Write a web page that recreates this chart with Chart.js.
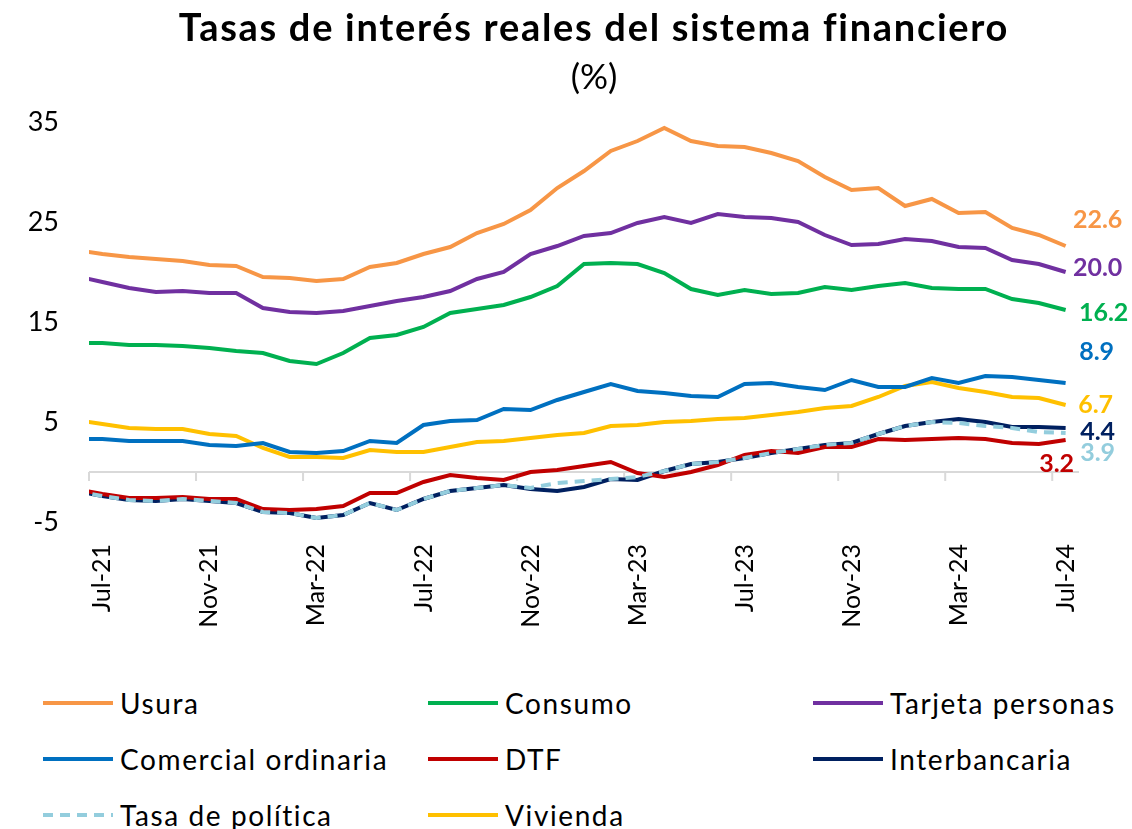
<!DOCTYPE html>
<html>
<head>
<meta charset="utf-8">
<script src="https://cdn.jsdelivr.net/npm/chart.js@4.4.1/dist/chart.umd.min.js"></script>
<style>
  body { margin: 0; background: #fff; font-family: Lato, sans-serif; }
  #wrap { position: relative; width: 1132px; height: 829px; overflow: hidden; }
  #box { position: absolute; left: 0; top: 0; width: 1132px; height: 652px; }
  #title { position: absolute; top: 3px; left: 28px; width: 1132px; text-align: center;
           font-weight: bold; font-size: 38px; letter-spacing: 1.7px; color: #000; }
  #subtitle { position: absolute; top: 54px; left: 28px; width: 1132px; text-align: center;
              font-size: 35px; color: #000; }
  .item { position: absolute; display: flex; align-items: center; height: 40px;
          font-size: 28px; letter-spacing: 1.6px; color: #000; white-space: nowrap; }
  .item svg { margin-right: 7px; }
</style>
</head>
<body>
<div id="wrap">
  <div id="box"><canvas id="chart"></canvas></div>
  <div id="title">Tasas de interés reales del sistema financiero</div>
  <div id="subtitle">(%)</div>
  <div id="legend"></div>
</div>
<script>
// months (Jun-21 only feeds the clipped stub at the left edge)
const months = ['Jun-21', 'Jul-21', 'Ago-21', 'Sep-21', 'Oct-21', 'Nov-21', 'Dic-21', 'Ene-22', 'Feb-22', 'Mar-22',
  'Abr-22', 'May-22', 'Jun-22', 'Jul-22', 'Ago-22', 'Sep-22', 'Oct-22', 'Nov-22', 'Dic-22', 'Ene-23', 'Feb-23',
  'Mar-23', 'Abr-23', 'May-23', 'Jun-23', 'Jul-23', 'Ago-23', 'Sep-23', 'Oct-23', 'Nov-23', 'Dic-23', 'Ene-24',
  'Feb-24', 'Mar-24', 'Abr-24', 'May-24', 'Jun-24', 'Jul-24'];

const usura = [22.2, 21.8, 21.5, 21.3, 21.1, 20.7, 20.6, 19.5, 19.4, 19.1, 19.3, 20.5, 20.9, 21.8, 22.5, 23.9, 24.8,
  26.2, 28.4, 30.1, 32.1, 33.1, 34.4, 33.1, 32.6, 32.5, 31.9, 31.1, 29.5, 28.2, 28.4, 26.6, 27.3, 25.9, 26.0, 24.4, 23.7, 22.6];
const consumo = [12.9, 12.9, 12.7, 12.7, 12.6, 12.4, 12.1, 11.9, 11.1, 10.8, 11.9, 13.4, 13.7, 14.5, 15.9, 16.3, 16.7,
  17.5, 18.6, 20.8, 20.9, 20.8, 19.9, 18.3, 17.7, 18.2, 17.8, 17.9, 18.5, 18.2, 18.6, 18.9, 18.4, 18.3, 18.3, 17.3, 16.9, 16.2];
const tarjeta = [19.6, 19.0, 18.4, 18.0, 18.1, 17.9, 17.9, 16.4, 16.0, 15.9, 16.1, 16.6, 17.1, 17.5, 18.1, 19.3, 20.0,
  21.8, 22.6, 23.6, 23.9, 24.9, 25.5, 24.9, 25.8, 25.5, 25.4, 25.0, 23.7, 22.7, 22.8, 23.3, 23.1, 22.5, 22.4, 21.2, 20.8, 20.0];
const comercial = [3.3, 3.3, 3.1, 3.1, 3.1, 2.7, 2.6, 2.9, 2.0, 1.9, 2.1, 3.1, 2.9, 4.7, 5.1, 5.2, 6.3, 6.2, 7.2, 8.0,
  8.8, 8.1, 7.9, 7.6, 7.5, 8.8, 8.9, 8.5, 8.2, 9.2, 8.5, 8.5, 9.4, 8.9, 9.6, 9.5, 9.2, 8.9];
const dtf = [-1.7, -2.2, -2.6, -2.6, -2.5, -2.7, -2.7, -3.7, -3.8, -3.7, -3.4, -2.1, -2.1, -1.0, -0.3, -0.6, -0.8, 0.0,
  0.2, 0.6, 1.0, -0.1, -0.5, 0.0, 0.7, 1.7, 2.1, 1.9, 2.5, 2.5, 3.3, 3.2, 3.3, 3.4, 3.3, 2.9, 2.8, 3.2];
const interbancaria = [-1.9, -2.4, -2.8, -2.9, -2.7, -2.9, -3.1, -4.0, -4.1, -4.6, -4.3, -3.1, -3.8, -2.7, -1.9, -1.6,
  -1.3, -1.7, -1.9, -1.5, -0.7, -0.8, 0.1, 0.8, 1.0, 1.4, 1.9, 2.3, 2.7, 2.9, 3.8, 4.6, 5.0, 5.3, 5.0, 4.5, 4.5, 4.4];
const politica = [-1.9, -2.4, -2.8, -2.9, -2.7, -2.9, -3.1, -4.0, -4.1, -4.6, -4.3, -3.1, -3.8, -2.7, -1.9, -1.6,
  -1.3, -1.6, -1.1, -0.9, -0.7, -0.5, 0.1, 0.8, 1.0, 1.4, 1.9, 2.3, 2.7, 2.9, 3.8, 4.6, 5.0, 4.9, 4.6, 4.4, 4.0, 3.9];
const vivienda = [5.2, 4.8, 4.4, 4.3, 4.3, 3.8, 3.6, 2.4, 1.5, 1.5, 1.4, 2.2, 2.0, 2.0, 2.5, 3.0, 3.1, 3.4, 3.7, 3.9,
  4.6, 4.7, 5.0, 5.1, 5.3, 5.4, 5.7, 6.0, 6.4, 6.6, 7.5, 8.6, 9.0, 8.4, 8.0, 7.5, 7.4, 6.7];

const yTicks = [-5, 5, 15, 25, 35];

// series setup: name, data, colour, end label offset
const series = [
  { name: 'Usura', data: usura, color: '#F79646', off: [32, -26] },
  { name: 'Consumo', data: consumo, color: '#00B050', off: [38, 3] },
  { name: 'Tarjeta personas', data: tarjeta, color: '#7030A0', off: [32, -4] },
  { name: 'Comercial ordinaria', data: comercial, color: '#0070C0', off: [31, -31] },
  { name: 'DTF', data: dtf, color: '#C00000', off: [-9, 24] },
  { name: 'Interbancaria', data: interbancaria, color: '#002060', off: [32, 4] },
  { name: 'Tasa de política', data: politica, color: '#93CDDD', off: [32, 20], dash: [10, 7] },
  { name: 'Vivienda', data: vivienda, color: '#FFC000', off: [30, 0] }
];

// zero line with tick marks every 4 months
const zeroLine = {
  id: 'zeroLine',
  beforeDatasetsDraw(chart) {
    const ctx = chart.ctx, area = chart.chartArea;
    const x = chart.scales.x, y = chart.scales.y;
    const y0 = y.getPixelForValue(0);
    ctx.save();
    ctx.strokeStyle = '#D9D9D9';
    ctx.lineWidth = 2;
    ctx.beginPath();
    ctx.moveTo(area.left, y0);
    ctx.lineTo(area.right, y0);
    for (let k = 1; k < months.length; k += 4) {
      const px = x.getPixelForValue(k - 0.5);
      ctx.moveTo(px, y0);
      ctx.lineTo(px, y0 + 9);
    }
    ctx.stroke();
    ctx.restore();
  }
};

// value labels at the end of each line
const endLabels = {
  id: 'endLabels',
  afterDatasetsDraw(chart) {
    const ctx = chart.ctx;
    ctx.save();
    ctx.font = 'bold 25px Lato, sans-serif';
    ctx.textAlign = 'center';
    ctx.textBaseline = 'middle';
    series.forEach((s, i) => {
      const pts = chart.getDatasetMeta(i).data;
      const p = pts[pts.length - 1];
      ctx.fillStyle = s.color;
      ctx.fillText(s.data[s.data.length - 1].toFixed(1), p.x + s.off[0], p.y + s.off[1]);
    });
    ctx.restore();
  }
};

new Chart(document.getElementById('chart'), {
  type: 'line',
  data: {
    labels: months,
    datasets: series.map(s => ({
      label: s.name,
      data: s.data,
      borderColor: s.color,
      backgroundColor: s.color,
      borderWidth: 4,
      borderDash: s.dash || [],
      pointRadius: 0,
      tension: 0,
      order: s.dash ? -1 : 0
    }))
  },
  options: {
    responsive: true,
    maintainAspectRatio: false,
    animation: false,
    layout: { padding: { top: 122, right: 53, left: 0, bottom: 0 } },
    plugins: {
      legend: { display: false },
      tooltip: { enabled: false }
    },
    scales: {
      x: {
        type: 'category',
        min: 'Jul-21',
        offset: true,
        grid: { display: false, drawTicks: false },
        border: { display: false },
        afterFit: (scale) => { scale.height = 130; },
        ticks: {
          autoSkip: false,
          maxRotation: 90,
          minRotation: 90,
          padding: 22,
          color: '#000',
          font: { family: 'Lato, sans-serif', size: 25 },
          callback: function (value) {
            return (value - 1) % 4 === 0 ? this.getLabelForValue(value) : '';
          }
        }
      },
      y: {
        min: -5,
        max: 35,
        grid: { display: false, drawTicks: false },
        border: { display: false },
        afterFit: (scale) => { scale.width = 89; },
        afterBuildTicks: (scale) => { scale.ticks = yTicks.map(v => ({ value: v })); },
        ticks: {
          padding: 30,
          color: '#000',
          font: { family: 'Lato, sans-serif', size: 27 }
        }
      }
    }
  },
  plugins: [zeroLine, endLabels]
});

// legend in three columns, built from the series list
const cols = [43, 428, 813];
const rows = [703, 759, 815];
const legend = document.getElementById('legend');
series.forEach((s, i) => {
  const el = document.createElement('div');
  el.className = 'item';
  el.style.left = cols[i % 3] + 'px';
  el.style.top = (rows[Math.floor(i / 3)] - 20) + 'px';
  const dash = s.dash ? ' stroke-dasharray="10 7"' : '';
  el.innerHTML = '<svg width="70" height="10"><line x1="0" y1="5" x2="70" y2="5" stroke="' + s.color +
    '" stroke-width="4"' + dash + '/></svg><span>' + s.name + '</span>';
  legend.appendChild(el);
});
</script>
</body>
</html>
